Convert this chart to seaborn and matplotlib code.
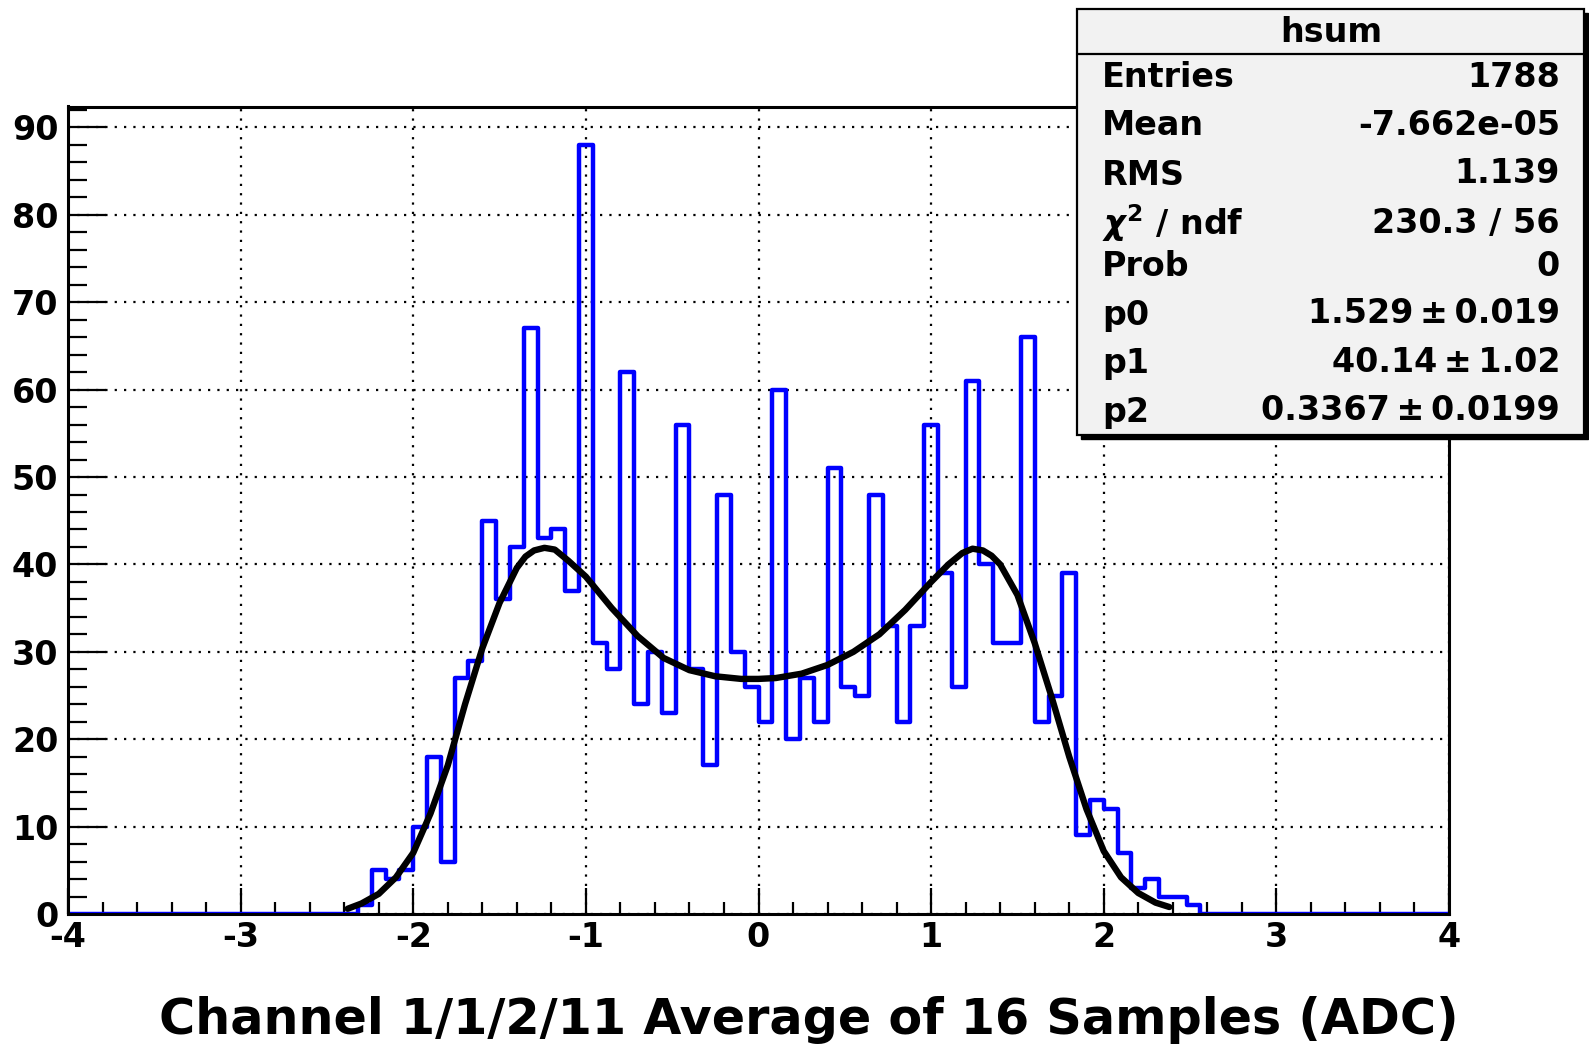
import numpy as np
import pandas as pd
import matplotlib
matplotlib.use("Agg")
import matplotlib.pyplot as plt
import seaborn as sns
from matplotlib.patches import Rectangle
from matplotlib.ticker import MultipleLocator, FixedLocator, FixedFormatter

# ---------------- data ----------------
n_bins = 100
x_range = (-4.0, 4.0)                              # 100 bins of width 0.08
counts = [0, 0, 0, 0, 0, 0, 0, 0, 0, 0,
          0, 0, 0, 0, 0, 0, 0, 0, 0, 0,
          0, 1, 5, 4, 5, 10, 18, 6, 27, 29,
          45, 36, 42, 67, 43, 44, 37, 88, 31, 28,
          62, 24, 30, 23, 56, 28, 17, 48, 30, 26,
          22, 60, 20, 27, 22, 51, 26, 25, 48, 33,
          22, 33, 56, 39, 26, 61, 40, 31, 31, 66,
          22, 25, 39, 9, 13, 12, 7, 3, 4, 2,
          2, 1, 0, 0, 0, 0, 0, 0, 0, 0,
          0, 0, 0, 0, 0, 0, 0, 0, 0, 0]
bin_edges = np.linspace(x_range[0], x_range[1], n_bins + 1)
bin_centers = 0.5 * (bin_edges[:-1] + bin_edges[1:])

fit_x = [-2.38, -2.30, -2.20, -2.10, -2.00, -1.90, -1.80, -1.70, -1.60, -1.50,
         -1.40, -1.35, -1.30, -1.24, -1.18, -1.10, -1.00, -0.85, -0.70, -0.55,
         -0.40, -0.25, -0.10, 0.00, 0.10, 0.25, 0.40, 0.55, 0.70, 0.85,
         1.00, 1.10, 1.18, 1.24, 1.30, 1.35, 1.40, 1.50, 1.60, 1.70,
         1.80, 1.90, 2.00, 2.10, 2.20, 2.30, 2.38]
fit_y = [0.6, 1.2, 2.3, 4.2, 7.0, 11.5, 17.0, 24.0, 30.4, 35.6,
         39.6, 40.9, 41.6, 41.9, 41.7, 40.4, 38.6, 35.0, 31.8, 29.3,
         27.9, 27.2, 26.9, 26.9, 27.0, 27.5, 28.5, 30.0, 32.0, 34.8,
         38.0, 40.0, 41.3, 41.8, 41.6, 41.0, 40.0, 36.5, 31.0, 24.7,
         18.0, 12.0, 7.2, 4.2, 2.4, 1.3, 0.8]

x_ticks = [-4, -3, -2, -1, 0, 1, 2, 3, 4]
x_tick_labels = ["-4", "-3", "-2", "-1", "0", "1", "2", "3", "4"]
y_ticks = [0, 10, 20, 30, 40, 50, 60, 70, 80, 90]
y_tick_labels = ["0", "10", "20", "30", "40", "50", "60", "70", "80", "90"]

x_title = "Channel 1/1/2/11 Average of 16 Samples (ADC)"
stat_title = "hsum"
stat_names = ["Entries", "Mean", "RMS", r"$\chi^{2}$ / ndf", "Prob", "p0", "p1", "p2"]
stat_values = ["1788", "-7.662e-05", "1.139", "230.3 / 56", "0",
               "1.529\u2009\u00b1\u20090.019", "40.14\u2009\u00b1\u20091.02",
               "0.3367\u2009\u00b1\u20090.0199"]

# ---------------- style ----------------
sns.set_style("white")
plt.rcParams["font.family"] = ["DejaVu Sans"]
plt.rcParams["font.weight"] = "bold"
plt.rcParams["text.color"] = "black"
plt.rcParams["axes.labelcolor"] = "black"
plt.rcParams["xtick.color"] = "black"
plt.rcParams["ytick.color"] = "black"
plt.rcParams["mathtext.fontset"] = "dejavusans"

W, H = 1589, 1048
fig = plt.figure(figsize=(W / 100, H / 100), dpi=100)
fig.patch.set_facecolor("white")

ax_l, ax_r, ax_t, ax_b = 68, 1449, 106.5, 914
ax = fig.add_axes([ax_l / W, 1 - ax_b / H, (ax_r - ax_l) / W, (ax_b - ax_t) / H])

df = pd.DataFrame({"x": bin_centers, "w": np.asarray(counts, dtype=float)})
sns.histplot(data=df, x="x", weights="w", bins=n_bins, binrange=x_range,
             element="step", fill=False, color="#0000ff", linewidth=3.2, ax=ax)
sns.lineplot(x=fit_x, y=fit_y, color="black", linewidth=4.6, ax=ax, sort=True)

ax.set_xlim(-4, 4)
ax.set_ylim(0, 92.4)
ax.set_xlabel("")
ax.set_ylabel("")

ax.xaxis.set_major_locator(FixedLocator(x_ticks))
ax.xaxis.set_major_formatter(FixedFormatter(x_tick_labels))
ax.xaxis.set_minor_locator(MultipleLocator(0.2))
ax.yaxis.set_major_locator(FixedLocator(y_ticks))
ax.yaxis.set_major_formatter(FixedFormatter(y_tick_labels))
ax.yaxis.set_minor_locator(MultipleLocator(2))

ax.grid(True, which="major", color="black", linestyle=(0, (1, 3.2)), linewidth=1.6)
ax.grid(False, which="minor")

ax.tick_params(axis="x", which="major", direction="in", length=19, width=1.6,
               labelsize=24, pad=5, top=False, bottom=True, colors="black")
ax.tick_params(axis="x", which="minor", direction="in", length=9, width=1.6,
               top=False, bottom=True)
ax.tick_params(axis="y", which="major", direction="in", length=27, width=1.6,
               labelsize=24, pad=7, left=True, right=False, colors="black")
ax.tick_params(axis="y", which="minor", direction="in", length=13.5, width=1.6,
               left=True, right=False)
for lab in ax.get_xticklabels() + ax.get_yticklabels():
    lab.set_fontweight("bold")
    lab.set_color("black")

for sp in ax.spines.values():
    sp.set_linewidth(2.2)
    sp.set_color("black")
    sp.set_visible(True)

# x title (right aligned at the axis end)
fig.text(1459 / W, 1 - 1034 / H, x_title, ha="right", va="baseline",
         fontsize=35.5, fontweight="bold", color="black")

# ---------------- stat box ----------------
def fx(px):
    return px / W

def fy(py):
    return 1 - py / H

bx0, bx1, by0, by1 = 1077, 1584, 9, 435
sh = 4
fig.patches.append(Rectangle((fx(bx0 + sh), fy(by1 + sh)), fx(bx1 - bx0), (by1 - by0) / H,
                             transform=fig.transFigure, facecolor="black",
                             edgecolor="black", zorder=5))
fig.patches.append(Rectangle((fx(bx0), fy(by1)), fx(bx1 - bx0), (by1 - by0) / H,
                             transform=fig.transFigure, facecolor="#f2f2f2",
                             edgecolor="black", linewidth=1.6, zorder=6))
fig.lines.append(plt.Line2D([fx(bx0), fx(bx1)], [fy(54), fy(54)],
                            transform=fig.transFigure, color="black",
                            linewidth=1.6, zorder=7))

fs = 24
fig.text(fx(1331), fy(42.5), stat_title, ha="center", va="baseline",
         fontsize=fs, fontweight="bold", color="black", zorder=8)
name_base = [87.3, 135, 185, 235, 276, 325, 373, 421.5]
val_base = [87.3, 135, 183, 233, 276, 323, 372, 420]
for nm, v, yb, yv in zip(stat_names, stat_values, name_base, val_base):
    fig.text(fx(1102), fy(yb), nm, ha="left", va="baseline", fontsize=fs,
             fontweight="bold", color="black", zorder=8)
    fig.text(fx(1560), fy(yv), v, ha="right", va="baseline", fontsize=fs,
             fontweight="bold", color="black", zorder=8)

fig.savefig("out.png", dpi=100, facecolor="white")
